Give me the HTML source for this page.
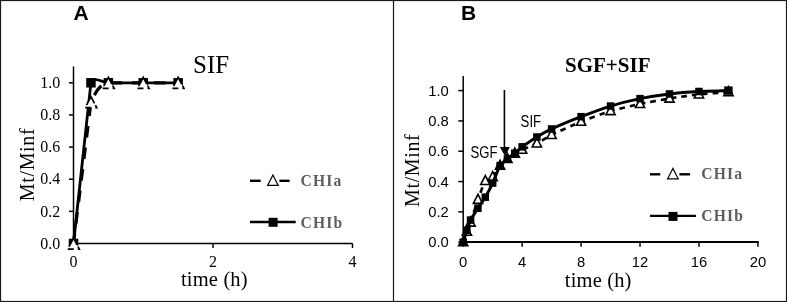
<!DOCTYPE html>
<html><head><meta charset="utf-8"><title>Release profiles</title>
<style>html,body{margin:0;padding:0;background:#fff;width:787px;height:302px;overflow:hidden;font-family:"Liberation Serif",serif}svg{display:block;filter:grayscale(1)}</style>
</head><body>
<svg width="787" height="302" viewBox="0 0 787 302">
<rect x="0.5" y="0.5" width="786" height="301" fill="none" stroke="#1a1a1a" stroke-width="1.2"/>
<line x1="393.5" y1="0" x2="393.5" y2="302" stroke="#1a1a1a" stroke-width="1.2"/>
<text x="73.6" y="19.9" font-family="Liberation Sans, sans-serif" font-weight="bold" font-size="21">A</text>
<text x="193" y="72.8" font-family="Liberation Serif, serif" font-size="25">SIF</text>
<line x1="73.50" y1="66.5" x2="73.50" y2="244.20" stroke="#000" stroke-width="1.5"/>
<line x1="72.80" y1="243.50" x2="352.5" y2="243.50" stroke="#000" stroke-width="1.5"/>
<line x1="69" y1="243.50" x2="73.50" y2="243.50" stroke="#000" stroke-width="1.5"/>
<text x="60.2" y="248.70" font-family="Liberation Serif, serif" font-size="16" text-anchor="end">0.0</text>
<line x1="69" y1="211.36" x2="73.50" y2="211.36" stroke="#000" stroke-width="1.5"/>
<text x="60.2" y="216.56" font-family="Liberation Serif, serif" font-size="16" text-anchor="end">0.2</text>
<line x1="69" y1="179.22" x2="73.50" y2="179.22" stroke="#000" stroke-width="1.5"/>
<text x="60.2" y="184.42" font-family="Liberation Serif, serif" font-size="16" text-anchor="end">0.4</text>
<line x1="69" y1="147.08" x2="73.50" y2="147.08" stroke="#000" stroke-width="1.5"/>
<text x="60.2" y="152.28" font-family="Liberation Serif, serif" font-size="16" text-anchor="end">0.6</text>
<line x1="69" y1="114.94" x2="73.50" y2="114.94" stroke="#000" stroke-width="1.5"/>
<text x="60.2" y="120.14" font-family="Liberation Serif, serif" font-size="16" text-anchor="end">0.8</text>
<line x1="69" y1="82.80" x2="73.50" y2="82.80" stroke="#000" stroke-width="1.5"/>
<text x="60.2" y="88.00" font-family="Liberation Serif, serif" font-size="16" text-anchor="end">1.0</text>
<line x1="73.50" y1="243.50" x2="73.50" y2="248.00" stroke="#000" stroke-width="1.5"/>
<text x="73.50" y="267" font-family="Liberation Serif, serif" font-size="16" text-anchor="middle">0</text>
<line x1="213.00" y1="243.50" x2="213.00" y2="248.00" stroke="#000" stroke-width="1.5"/>
<text x="213.00" y="267" font-family="Liberation Serif, serif" font-size="16" text-anchor="middle">2</text>
<line x1="352.50" y1="243.50" x2="352.50" y2="248.00" stroke="#000" stroke-width="1.5"/>
<text x="352.50" y="267" font-family="Liberation Serif, serif" font-size="16" text-anchor="middle">4</text>
<text x="214.3" y="286.4" font-family="Liberation Serif, serif" font-size="20.5" text-anchor="middle" textLength="66.6" lengthAdjust="spacing">time (h)</text>
<text transform="translate(34,164.8) rotate(-90)" font-family="Liberation Serif, serif" font-size="20" text-anchor="middle" textLength="73" lengthAdjust="spacing">Mt/Minf</text>
<path d="M73.50,243.50 L90.94,82.80 C95.00,75.50 102.00,82.80 108.38,82.80 L178.12,82.80" fill="none" stroke="#000" stroke-width="2.8" stroke-linejoin="round"/>
<rect x="68.75" y="238.75" width="9.50" height="9.50" fill="#000"/>
<rect x="86.19" y="78.05" width="9.50" height="9.50" fill="#000"/>
<rect x="103.62" y="78.05" width="9.50" height="9.50" fill="#000"/>
<rect x="138.50" y="78.05" width="9.50" height="9.50" fill="#000"/>
<rect x="173.38" y="78.05" width="9.50" height="9.50" fill="#000"/>
<path d="M73.50,243.50 L90.94,102.08 C94.44,94.08 100.38,82.80 108.38,82.80 L178.12,82.80" fill="none" stroke="#000" stroke-width="3.2" stroke-dasharray="11.6,10.1" stroke-dashoffset="1.7"/>
<polygon points="73.50,238.10 67.70,249.10 79.30,249.10" fill="#fff" stroke="#000" stroke-width="1.7" stroke-dasharray="9.5 3 6 4 4.4 2 8" stroke-linejoin="miter"/>
<polygon points="90.94,96.68 85.14,107.68 96.74,107.68" fill="#fff" stroke="#000" stroke-width="1.7" stroke-dasharray="9.5 3 6 4 4.4 2 8" stroke-linejoin="miter"/>
<polygon points="108.38,77.40 102.58,88.40 114.17,88.40" fill="#fff" stroke="#000" stroke-width="1.7" stroke-dasharray="9.5 3 6 4 4.4 2 8" stroke-linejoin="miter"/>
<polygon points="143.25,77.40 137.45,88.40 149.05,88.40" fill="#fff" stroke="#000" stroke-width="1.7" stroke-dasharray="9.5 3 6 4 4.4 2 8" stroke-linejoin="miter"/>
<polygon points="178.12,77.40 172.32,88.40 183.93,88.40" fill="#fff" stroke="#000" stroke-width="1.7" stroke-dasharray="9.5 3 6 4 4.4 2 8" stroke-linejoin="miter"/>
<line x1="250" y1="180.8" x2="260.7" y2="180.8" stroke="#000" stroke-width="2.4"/>
<line x1="279.4" y1="180.8" x2="289.7" y2="180.8" stroke="#000" stroke-width="2.4"/>
<polygon points="272.90,175.00 267.60,185.40 278.20,185.40" fill="#fff" stroke="#000" stroke-width="1.2" stroke-linejoin="miter"/>
<text transform="translate(300.5,185.7) scale(0.92,1)" font-family="Liberation Serif, serif" font-weight="bold" font-size="17" fill="#5e5e5e" letter-spacing="1.3">CHIa</text>
<line x1="250" y1="222" x2="295.7" y2="222" stroke="#000" stroke-width="2.3"/>
<rect x="268.60" y="217.80" width="9.00" height="9.00" fill="#000"/>
<text transform="translate(300.5,228.2) scale(0.92,1)" font-family="Liberation Serif, serif" font-weight="bold" font-size="17" fill="#5e5e5e" letter-spacing="1.3">CHIb</text>
<text x="461" y="19.9" font-family="Liberation Sans, sans-serif" font-weight="bold" font-size="21">B</text>
<text x="565" y="71.6" font-family="Liberation Serif, serif" font-weight="bold" font-size="21">SGF+SIF</text>
<line x1="463.20" y1="76" x2="463.20" y2="242.90" stroke="#000" stroke-width="1.5"/>
<line x1="462.20" y1="242" x2="758.8" y2="242" stroke="#000" stroke-width="2"/>
<line x1="458.3" y1="242.20" x2="463.20" y2="242.20" stroke="#000" stroke-width="1.5"/>
<text x="448.8" y="247.30" font-family="Liberation Sans, sans-serif" font-size="14.8" text-anchor="end">0.0</text>
<line x1="458.3" y1="211.88" x2="463.20" y2="211.88" stroke="#000" stroke-width="1.5"/>
<text x="448.8" y="216.98" font-family="Liberation Sans, sans-serif" font-size="14.8" text-anchor="end">0.2</text>
<line x1="458.3" y1="181.56" x2="463.20" y2="181.56" stroke="#000" stroke-width="1.5"/>
<text x="448.8" y="186.66" font-family="Liberation Sans, sans-serif" font-size="14.8" text-anchor="end">0.4</text>
<line x1="458.3" y1="151.24" x2="463.20" y2="151.24" stroke="#000" stroke-width="1.5"/>
<text x="448.8" y="156.34" font-family="Liberation Sans, sans-serif" font-size="14.8" text-anchor="end">0.6</text>
<line x1="458.3" y1="120.92" x2="463.20" y2="120.92" stroke="#000" stroke-width="1.5"/>
<text x="448.8" y="126.02" font-family="Liberation Sans, sans-serif" font-size="14.8" text-anchor="end">0.8</text>
<line x1="458.3" y1="90.60" x2="463.20" y2="90.60" stroke="#000" stroke-width="1.5"/>
<text x="448.8" y="95.70" font-family="Liberation Sans, sans-serif" font-size="14.8" text-anchor="end">1.0</text>
<line x1="463.20" y1="242.20" x2="463.20" y2="246.70" stroke="#000" stroke-width="1.5"/>
<text x="463.20" y="267.2" font-family="Liberation Sans, sans-serif" font-size="14.8" text-anchor="middle">0</text>
<line x1="522.14" y1="242.20" x2="522.14" y2="246.70" stroke="#000" stroke-width="1.5"/>
<text x="522.14" y="267.2" font-family="Liberation Sans, sans-serif" font-size="14.8" text-anchor="middle">4</text>
<line x1="581.08" y1="242.20" x2="581.08" y2="246.70" stroke="#000" stroke-width="1.5"/>
<text x="581.08" y="267.2" font-family="Liberation Sans, sans-serif" font-size="14.8" text-anchor="middle">8</text>
<line x1="640.02" y1="242.20" x2="640.02" y2="246.70" stroke="#000" stroke-width="1.5"/>
<text x="640.02" y="267.2" font-family="Liberation Sans, sans-serif" font-size="14.8" text-anchor="middle">12</text>
<line x1="698.96" y1="242.20" x2="698.96" y2="246.70" stroke="#000" stroke-width="1.5"/>
<text x="698.96" y="267.2" font-family="Liberation Sans, sans-serif" font-size="14.8" text-anchor="middle">16</text>
<line x1="757.90" y1="242.20" x2="757.90" y2="246.70" stroke="#000" stroke-width="1.5"/>
<text x="757.90" y="267.2" font-family="Liberation Sans, sans-serif" font-size="14.8" text-anchor="middle">20</text>
<text x="598.1" y="287.2" font-family="Liberation Serif, serif" font-size="20.5" text-anchor="middle" textLength="66.6" lengthAdjust="spacing">time (h)</text>
<text transform="translate(419,170.6) rotate(-90)" font-family="Liberation Serif, serif" font-size="20" text-anchor="middle" textLength="72.6" lengthAdjust="spacing">Mt/Minf</text>
<path d="M463.20,242.20 C463.81,240.43 466.23,233.34 466.88,231.59 C467.46,230.06 470.03,224.04 470.57,222.49 C471.87,218.73 476.60,203.51 477.94,199.75 C479.06,196.58 483.47,183.78 485.30,180.95 C486.06,179.78 491.70,178.02 492.67,177.01 C494.24,175.38 498.62,167.40 500.04,165.64 C501.09,164.34 506.11,159.88 507.40,158.82 C508.57,157.86 513.48,154.31 514.77,153.51 C515.95,152.79 520.89,150.30 522.14,149.72 C524.57,148.61 534.49,144.56 536.88,143.36 C539.41,142.08 549.07,136.12 551.61,134.87 C556.44,132.50 576.09,123.69 581.08,121.68 C585.92,119.72 605.55,112.57 610.55,111.07 C615.39,109.61 635.08,105.00 640.02,103.94 C644.91,102.90 664.56,99.28 669.49,98.48 C674.38,97.69 694.03,94.92 698.96,94.39 C703.86,93.86 723.52,92.49 728.43,92.12" fill="none" stroke="#000" stroke-width="2.7" stroke-dasharray="5.5,5"/>
<polygon points="463.20,236.80 458.60,245.80 467.80,245.80" fill="#000" stroke="#000" stroke-width="1.6" stroke-linejoin="miter"/>
<polygon points="466.88,226.19 462.28,235.19 471.48,235.19" fill="#fff" stroke="#000" stroke-width="1.6" stroke-linejoin="miter"/>
<polygon points="470.57,217.09 465.97,226.09 475.17,226.09" fill="#fff" stroke="#000" stroke-width="1.6" stroke-linejoin="miter"/>
<polygon points="477.94,194.35 473.33,203.35 482.54,203.35" fill="#fff" stroke="#000" stroke-width="1.6" stroke-linejoin="miter"/>
<polygon points="485.30,175.55 480.70,184.55 489.90,184.55" fill="#fff" stroke="#000" stroke-width="1.6" stroke-linejoin="miter"/>
<polygon points="492.67,171.61 488.07,180.61 497.27,180.61" fill="#fff" stroke="#000" stroke-width="1.6" stroke-linejoin="miter"/>
<polygon points="500.04,160.24 495.44,169.24 504.64,169.24" fill="#fff" stroke="#000" stroke-width="1.6" stroke-linejoin="miter"/>
<polygon points="507.40,153.42 502.80,162.42 512.00,162.42" fill="#fff" stroke="#000" stroke-width="1.6" stroke-linejoin="miter"/>
<polygon points="514.77,148.11 510.17,157.11 519.37,157.11" fill="#fff" stroke="#000" stroke-width="1.6" stroke-linejoin="miter"/>
<polygon points="522.14,144.32 517.54,153.32 526.74,153.32" fill="#fff" stroke="#000" stroke-width="1.6" stroke-linejoin="miter"/>
<polygon points="536.88,137.96 532.27,146.96 541.48,146.96" fill="#fff" stroke="#000" stroke-width="1.6" stroke-linejoin="miter"/>
<polygon points="551.61,129.47 547.01,138.47 556.21,138.47" fill="#fff" stroke="#000" stroke-width="1.6" stroke-linejoin="miter"/>
<polygon points="581.08,116.28 576.48,125.28 585.68,125.28" fill="#fff" stroke="#000" stroke-width="1.6" stroke-linejoin="miter"/>
<polygon points="610.55,105.67 605.95,114.67 615.15,114.67" fill="#fff" stroke="#000" stroke-width="1.6" stroke-linejoin="miter"/>
<polygon points="640.02,98.54 635.42,107.54 644.62,107.54" fill="#fff" stroke="#000" stroke-width="1.6" stroke-linejoin="miter"/>
<polygon points="669.49,93.08 664.89,102.08 674.09,102.08" fill="#fff" stroke="#000" stroke-width="1.6" stroke-linejoin="miter"/>
<polygon points="698.96,88.99 694.36,97.99 703.56,97.99" fill="#fff" stroke="#000" stroke-width="1.6" stroke-linejoin="miter"/>
<polygon points="728.43,86.72 723.83,95.72 733.03,95.72" fill="#fff" stroke="#000" stroke-width="1.6" stroke-linejoin="miter"/>
<path d="M463.20,242.20 C463.81,240.23 466.23,232.33 466.88,230.38 C467.46,228.64 469.75,221.70 470.57,220.07 C471.60,217.99 476.68,210.19 477.94,208.24 C479.13,206.38 484.18,199.09 485.30,197.17 C486.64,194.89 491.55,185.48 492.67,183.08 C494.01,180.22 498.39,168.33 500.04,165.64 C500.90,164.23 506.14,160.04 507.40,158.97 C508.60,157.97 513.57,154.20 514.77,153.21 C516.03,152.18 520.83,147.80 522.14,146.84 C524.52,145.10 534.35,138.52 536.88,136.99 C539.27,135.54 549.07,130.12 551.61,128.95 C556.44,126.73 576.12,118.60 581.08,116.68 C585.95,114.79 605.56,107.59 610.55,106.06 C615.39,104.58 635.06,99.66 640.02,98.63 C644.89,97.63 664.55,94.53 669.49,93.94 C674.38,93.34 694.04,91.79 698.96,91.51 C703.87,91.23 723.52,90.75 728.43,90.60" fill="none" stroke="#000" stroke-width="3" stroke-linejoin="round"/>
<rect x="459.45" y="238.45" width="7.50" height="7.50" fill="#000"/>
<rect x="463.13" y="226.63" width="7.50" height="7.50" fill="#000"/>
<rect x="466.82" y="216.32" width="7.50" height="7.50" fill="#000"/>
<rect x="474.19" y="204.49" width="7.50" height="7.50" fill="#000"/>
<rect x="481.55" y="193.42" width="7.50" height="7.50" fill="#000"/>
<rect x="488.92" y="179.33" width="7.50" height="7.50" fill="#000"/>
<rect x="496.29" y="161.89" width="7.50" height="7.50" fill="#000"/>
<rect x="503.65" y="155.22" width="7.50" height="7.50" fill="#000"/>
<rect x="511.02" y="149.46" width="7.50" height="7.50" fill="#000"/>
<rect x="518.39" y="143.09" width="7.50" height="7.50" fill="#000"/>
<rect x="533.12" y="133.24" width="7.50" height="7.50" fill="#000"/>
<rect x="547.86" y="125.20" width="7.50" height="7.50" fill="#000"/>
<rect x="577.33" y="112.93" width="7.50" height="7.50" fill="#000"/>
<rect x="606.80" y="102.31" width="7.50" height="7.50" fill="#000"/>
<rect x="636.27" y="94.88" width="7.50" height="7.50" fill="#000"/>
<rect x="665.74" y="90.19" width="7.50" height="7.50" fill="#000"/>
<rect x="695.21" y="87.76" width="7.50" height="7.50" fill="#000"/>
<rect x="724.23" y="86.40" width="8.40" height="8.40" fill="#000"/>
<line x1="504.4" y1="90" x2="504.4" y2="150" stroke="#000" stroke-width="1.6"/>
<polygon points="499.9,147 509.9,147 505.1,156.2" fill="#000"/>
<text x="470.6" y="157.8" font-family="Liberation Sans, sans-serif" font-size="16.2" textLength="27" lengthAdjust="spacingAndGlyphs">SGF</text>
<text x="520.6" y="126.9" font-family="Liberation Sans, sans-serif" font-size="15.6" textLength="20.6" lengthAdjust="spacingAndGlyphs">SIF</text>
<line x1="650" y1="174.3" x2="660.3" y2="174.3" stroke="#000" stroke-width="2.4"/>
<line x1="679.4" y1="174.3" x2="690.1" y2="174.3" stroke="#000" stroke-width="2.4"/>
<polygon points="672.90,168.40 667.60,178.80 678.20,178.80" fill="#fff" stroke="#000" stroke-width="1.2" stroke-linejoin="miter"/>
<text transform="translate(701.2,179.4) scale(0.92,1)" font-family="Liberation Serif, serif" font-weight="bold" font-size="17" fill="#5e5e5e" letter-spacing="1.3">CHIa</text>
<line x1="650" y1="215.8" x2="695.9" y2="215.8" stroke="#000" stroke-width="2.3"/>
<rect x="668.50" y="211.90" width="9.00" height="9.00" fill="#000"/>
<text transform="translate(701.2,221.3) scale(0.92,1)" font-family="Liberation Serif, serif" font-weight="bold" font-size="17" fill="#5e5e5e" letter-spacing="1.3">CHIb</text>
</svg>
</body></html>
